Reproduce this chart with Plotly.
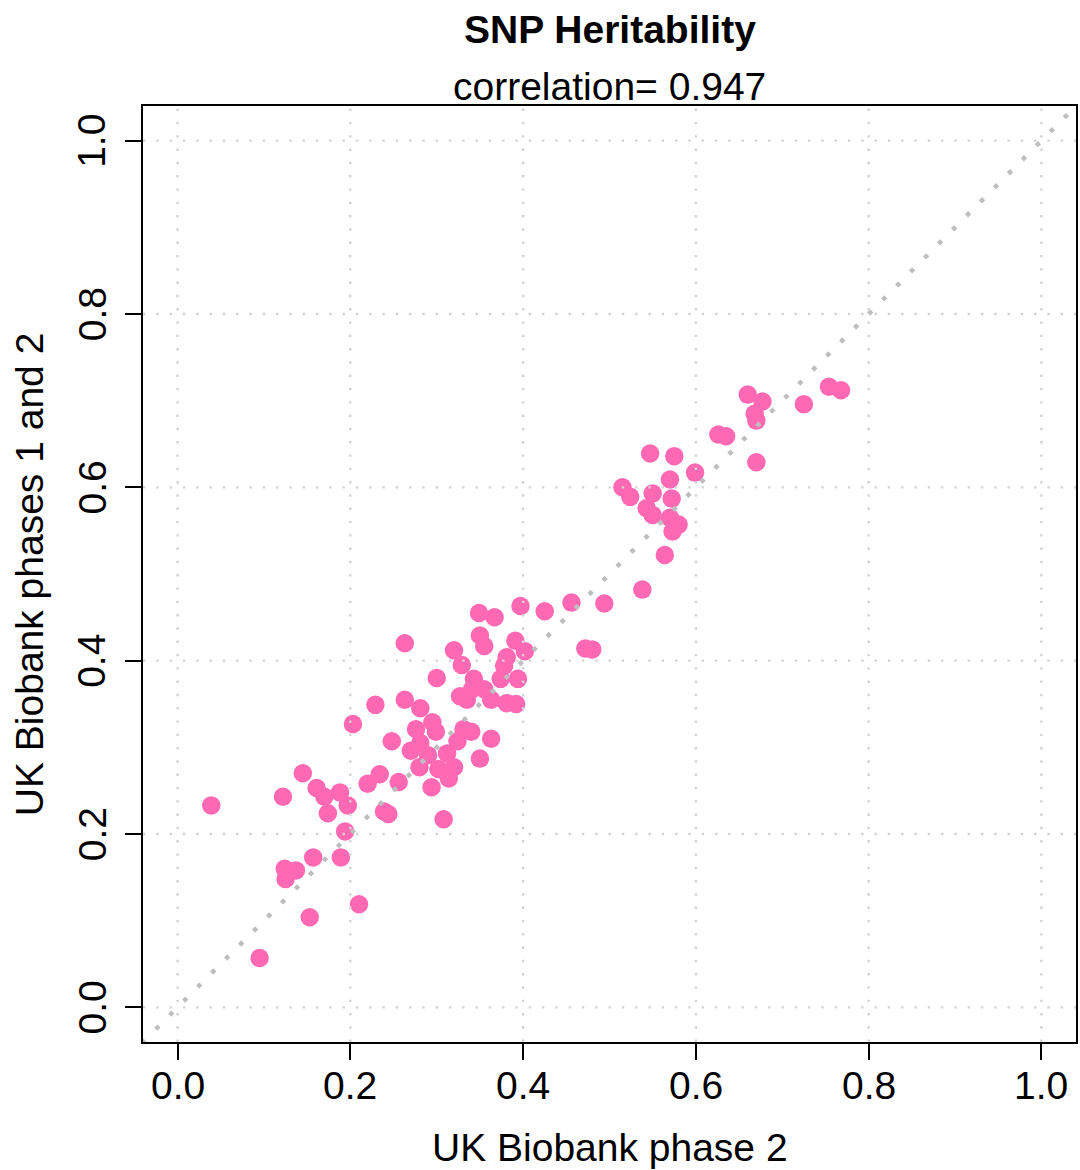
import plotly.graph_objects as go

# SNP heritability estimates: UK Biobank phase 2 (x) vs phases 1 and 2 (y)
h2_phase2 = [
    0.039, 0.095, 0.122, 0.124, 0.125, 0.137, 0.145, 0.153, 0.157, 0.161,
    0.170, 0.174, 0.188, 0.189, 0.194, 0.197, 0.203, 0.210, 0.220, 0.229,
    0.234, 0.239, 0.244, 0.248, 0.256, 0.263, 0.263, 0.270, 0.276, 0.280,
    0.281, 0.281, 0.290, 0.294, 0.295, 0.299, 0.300, 0.302, 0.308, 0.312,
    0.314, 0.320, 0.320, 0.324, 0.327, 0.329, 0.331, 0.335, 0.340, 0.341,
    0.343, 0.349, 0.350, 0.350, 0.355, 0.355, 0.363, 0.363, 0.367, 0.374,
    0.378, 0.381, 0.381, 0.391, 0.392, 0.394, 0.397, 0.402, 0.425, 0.456,
    0.472, 0.480, 0.494, 0.515, 0.524, 0.538, 0.543, 0.547, 0.550, 0.550,
    0.564, 0.570, 0.570, 0.572, 0.573, 0.575, 0.580, 0.599, 0.626, 0.635,
    0.660, 0.668, 0.670, 0.670, 0.677, 0.725, 0.754, 0.768,
]
h2_phase12 = [
    0.233, 0.057, 0.243, 0.160, 0.148, 0.158, 0.270, 0.104, 0.173, 0.253,
    0.243, 0.224, 0.248, 0.173, 0.203, 0.233, 0.327, 0.119, 0.258, 0.349,
    0.269, 0.226, 0.223, 0.307, 0.260, 0.420, 0.355, 0.296, 0.321, 0.277,
    0.305, 0.345, 0.291, 0.254, 0.329, 0.318, 0.380, 0.275, 0.217, 0.293,
    0.264, 0.277, 0.412, 0.307, 0.359, 0.395, 0.321, 0.355, 0.318, 0.367,
    0.379, 0.455, 0.287, 0.429, 0.417, 0.367, 0.310, 0.355, 0.450, 0.379,
    0.394, 0.404, 0.351, 0.423, 0.350, 0.379, 0.463, 0.411, 0.457, 0.467,
    0.414, 0.413, 0.466, 0.600, 0.589, 0.482, 0.576, 0.639, 0.593, 0.568,
    0.522, 0.609, 0.565, 0.587, 0.549, 0.636, 0.557, 0.617, 0.661, 0.659,
    0.707, 0.685, 0.677, 0.629, 0.699, 0.696, 0.716, 0.712,
]
correlation = 0.947

tick_values = [0.0, 0.2, 0.4, 0.6, 0.8, 1.0]
tick_labels = ["0.0", "0.2", "0.4", "0.6", "0.8", "1.0"]
axis_range = [-0.04, 1.04]

FONT = "Liberation Sans, Arial, Helvetica, sans-serif"
FS = 39
PINK = "#FF69B4"
GRID = "#D3D3D3"
DIAG = "#BEBEBE"

fig = go.Figure()

fig.add_trace(go.Scatter(
    x=h2_phase2, y=h2_phase12, mode="markers",
    marker=dict(color=PINK, size=18.5, line=dict(width=0)),
    hoverinfo="x+y", showlegend=False,
))

# identity line y = x across the whole panel
fig.add_trace(go.Scatter(
    x=[axis_range[0] - 0.05, axis_range[1] + 0.05],
    y=[axis_range[0] - 0.05, axis_range[1] + 0.05],
    mode="lines",
    line=dict(color=DIAG, width=4.5, dash="4.5px,15.3px"),
    hoverinfo="skip", showlegend=False,
))

# dotted reference grid drawn over the points
shapes = []
for v in tick_values:
    shapes.append(dict(type="line", xref="x", yref="paper", x0=v, x1=v, y0=0, y1=1,
                       line=dict(color=GRID, width=2.4, dash="2.4px,10.9px"), layer="above"))
    shapes.append(dict(type="line", xref="paper", yref="y", x0=0, x1=1, y0=v, y1=v,
                       line=dict(color=GRID, width=2.4, dash="2.4px,10.9px"), layer="above"))

axis_common = dict(
    range=axis_range, tickvals=tick_values, showticklabels=False,
    showgrid=False, zeroline=False,
    showline=True, mirror=True, linecolor="black", linewidth=1.5,
    ticks="outside", ticklen=16, tickwidth=1.5, tickcolor="black",
)
fig.update_xaxes(**axis_common)
fig.update_yaxes(**axis_common)

txt = dict(family=FONT, size=FS, color="black")
annotations = [
    dict(text="<b>SNP Heritability</b>", xref="paper", yref="paper",
         x=0.5, y=1.082, xanchor="center", yanchor="middle", showarrow=False,
         font=txt),
    dict(text=f"correlation= {correlation}", xref="paper", yref="paper",
         x=0.5, y=1.021, xanchor="center", yanchor="middle", showarrow=False,
         font=txt),
    dict(text="UK Biobank phase 2", xref="paper", yref="paper",
         x=0.5, y=-0.113, xanchor="center", yanchor="middle", showarrow=False,
         font=txt),
    dict(text="UK Biobank phases 1 and 2", xref="paper", yref="paper",
         x=-0.122, y=0.5, xanchor="center", yanchor="middle", showarrow=False,
         textangle=-90, font=txt),
]
# tick labels, R-style: horizontal below x, parallel to the y axis on the left
for v, lab in zip(tick_values, tick_labels):
    annotations.append(dict(text=lab, xref="x", yref="paper", x=v, y=-0.047,
                            xanchor="center", yanchor="middle", showarrow=False, font=txt))
    annotations.append(dict(text=lab, xref="paper", yref="y", x=-0.0545, y=v,
                            xanchor="center", yanchor="middle", showarrow=False,
                            textangle=-90, font=txt))

fig.update_layout(
    width=1080, height=1170,
    margin=dict(l=143, r=2, t=106, b=128),
    paper_bgcolor="white", plot_bgcolor="white",
    font=dict(family=FONT, color="black"),
    shapes=shapes,
    annotations=annotations,
)

fig.write_html("out.html")
